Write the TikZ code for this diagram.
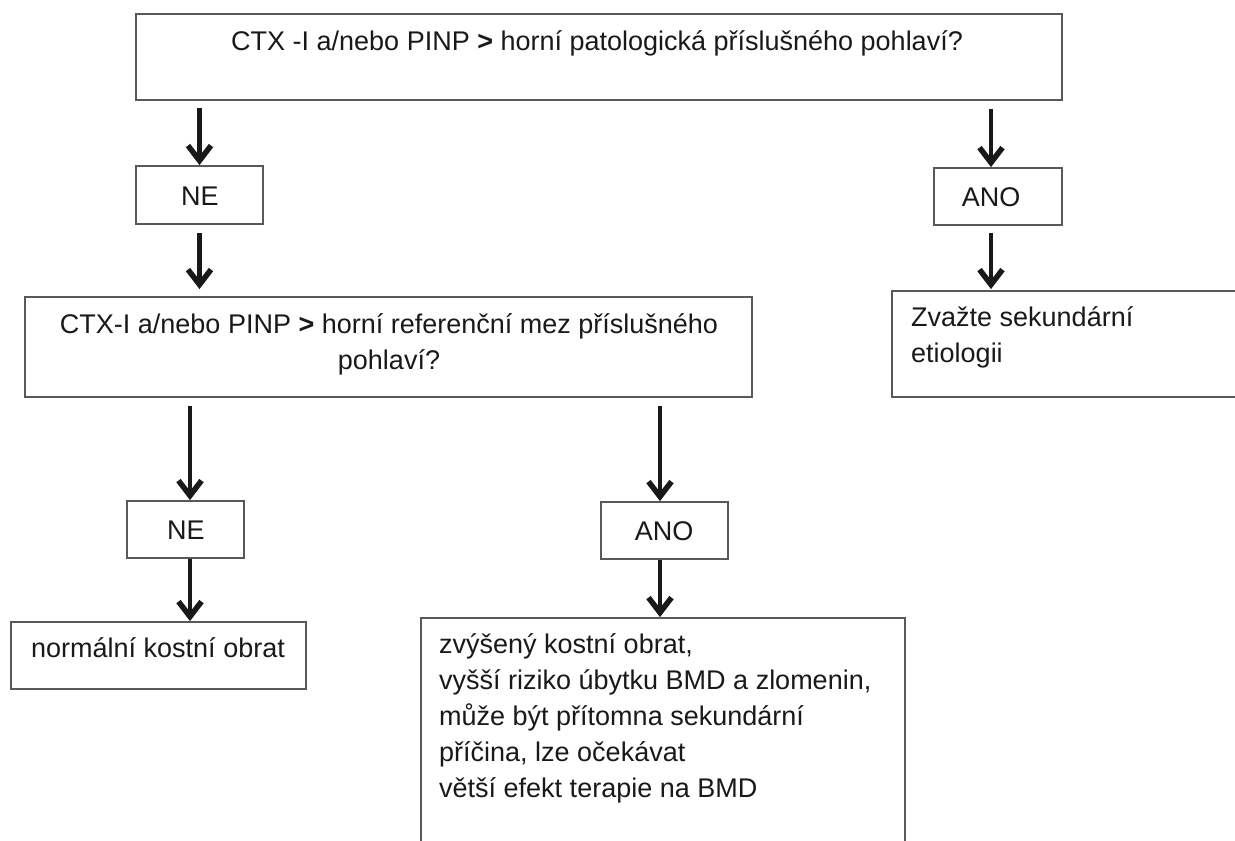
\documentclass[tikz,border=0pt]{standalone}
\usepackage{fontspec}
\setmainfont{Liberation Sans}
\usetikzlibrary{arrows.meta}
\begin{document}
\begin{tikzpicture}[x=1pt,y=-1pt,
  box/.style={draw=black!65, line width=1.8pt, rectangle, inner sep=0pt, fill=none},
  txt/.style={inner sep=0pt, font=\fontsize{27}{36}\selectfont, text=black!90},
  arr/.style={line width=4.5pt, black!90, -{Straight Barb[length=15pt,width=23pt,line width=5.5pt]}}]
\useasboundingbox (0,0) rectangle (1235,841);
\clip (0,0) rectangle (1235,841);
% boxes
\node[box, minimum width=926pt, minimum height=86pt] (top) at (599,57) {};
\node[box, minimum width=127pt, minimum height=58pt] (ne1) at (199.5,195) {};
\node[box, minimum width=727pt, minimum height=100pt] (q2) at (388.5,347) {};
\node[box, minimum width=117pt, minimum height=57pt] (ne2) at (185.5,529.5) {};
\node[box, minimum width=295pt, minimum height=67pt] (norm) at (158.5,655.5) {};
\node[box, minimum width=127pt, minimum height=57pt] (ano2) at (664.5,530.5) {};
\node[box, minimum width=484pt, minimum height=252pt] (big) at (663,744) {};
\node[box, minimum width=128pt, minimum height=57pt] (ano1) at (998,196.5) {};
\node[box, minimum width=368pt, minimum height=106pt] (zv) at (1076,344) {};
% texts
\node[txt, anchor=base west] (ttop) at (231,50) {CTX -I a/nebo PINP \textbf{>} horní patologická příslušného pohlaví?};
\node[txt, anchor=base] (tne1) at (200,205) {NE};
\node[txt, anchor=base, align=center] (tq2) at (389,369) {CTX-I a/nebo PINP \textbf{>} horní referenční mez příslušného\\pohlaví?};
\node[txt, anchor=base] (tne2) at (186,539) {NE};
\node[txt, anchor=base west] (tnorm) at (31,657) {normální kostní obrat};
\node[txt, anchor=base] (tano2) at (664,540) {ANO};
\node[txt, anchor=base west, align=left] (tbig) at (439,797) {zvýšený kostní obrat,\\vyšší riziko úbytku BMD a zlomenin,\\může být přítomna sekundární\\příčina, lze očekávat\\větší efekt terapie na BMD};
\node[txt, anchor=base] (tano1) at (991,206) {ANO};
\node[txt, anchor=base west, align=left] (tzv) at (911,362) {Zvažte sekundární\\etiologii};
% arrows
\draw[arr, shorten <=7pt] (top.south -| ne1.north) -- (ne1.north);
\draw[arr, shorten <=8pt, shorten >=7pt] (ne1.south) -- (ne1.south |- q2.north);
\draw[arr, shorten <=8pt] ([xshift=4.5pt]ne2.north |- q2.south) -- ([xshift=4.5pt]ne2.north);
\draw[arr] ([xshift=4.5pt]ne2.south) -- ([xshift=4.5pt]ne2.south |- norm.north);
\draw[arr, shorten <=8pt] ([xshift=-4.5pt]ano2.north |- q2.south) -- ([xshift=-4.5pt]ano2.north);
\draw[arr] ([xshift=-4.5pt]ano2.south) -- ([xshift=-4.5pt]ano2.south |- big.north);
\draw[arr, shorten <=8pt] ([xshift=-7pt]ano1.north |- top.south) -- ([xshift=-7pt]ano1.north);
\draw[arr, shorten <=7pt, shorten >=1pt] ([xshift=-7pt]ano1.south) -- ([xshift=-7pt]ano1.south |- zv.north);
\end{tikzpicture}
\end{document}
